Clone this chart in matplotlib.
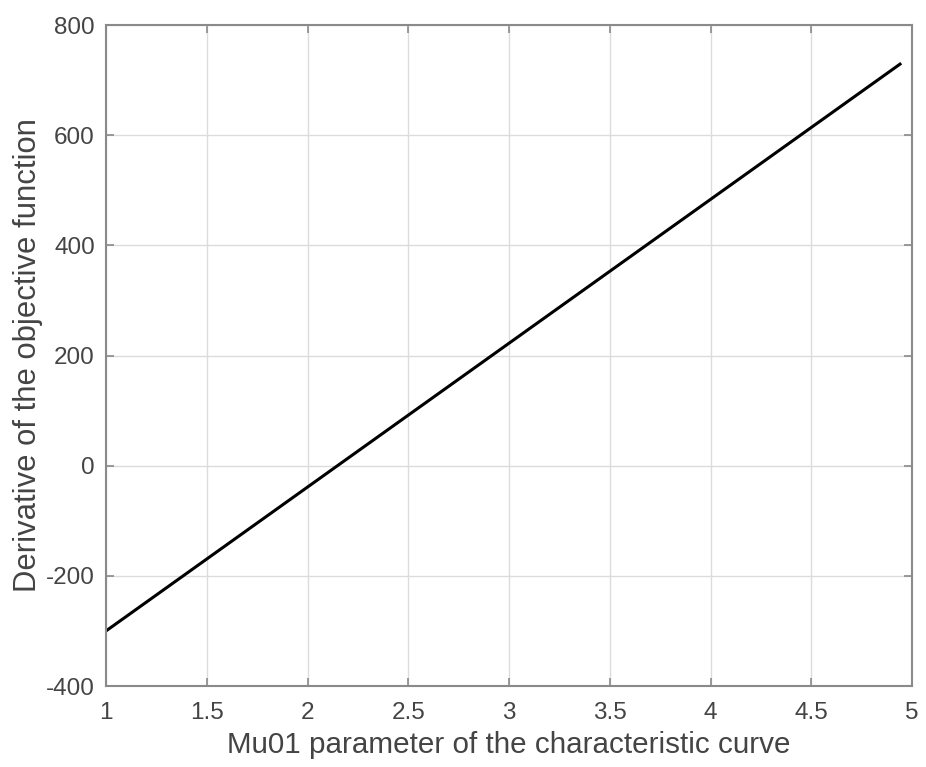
import matplotlib
matplotlib.use("Agg")
import matplotlib.pyplot as plt
import numpy as np

mu01 = [1.0, 4.94]
derivative = [-300.0, 729.0]
xticks = [1, 1.5, 2, 2.5, 3, 3.5, 4, 4.5, 5]
xticklabels = ["1", "1.5", "2", "2.5", "3", "3.5", "4", "4.5", "5"]
yticks = [-400, -200, 0, 200, 400, 600, 800]
yticklabels = ["-400", "-200", "0", "200", "400", "600", "800"]

plt.rcParams['font.family'] = ['Liberation Sans', 'DejaVu Sans']
fig = plt.figure(figsize=(9.26, 7.67), dpi=100)
ax = fig.add_axes([0.1145, 0.1056, 0.8705, 0.8618])
ax.plot(mu01, derivative, color='black', linewidth=2.2)
ax.set_xlim(1, 5)
ax.set_ylim(-400, 800)
ax.set_xticks(xticks)
ax.set_xticklabels(xticklabels)
ax.set_yticks(yticks)
ax.set_yticklabels(yticklabels)
tc = '#444444'
ax.grid(True, color='#dcdcdc', linewidth=1.0)
ax.set_axisbelow(True)
for s in ax.spines.values():
    s.set_color('#8a8a8a')
    s.set_linewidth(1.5)
ax.tick_params(direction='in', top=True, right=True, length=6, width=1.2,
               colors='#8a8a8a', labelcolor=tc, labelsize=17.5, pad=8)
ax.tick_params(axis='x', pad=11.5)
ax.set_xlabel('Mu01 parameter of the characteristic curve', fontsize=21.3, color=tc, labelpad=5)
ax.set_ylabel('Derivative of the objective function', fontsize=22.3, color=tc, labelpad=2.5)
fig.savefig('out.png', dpi=100)
